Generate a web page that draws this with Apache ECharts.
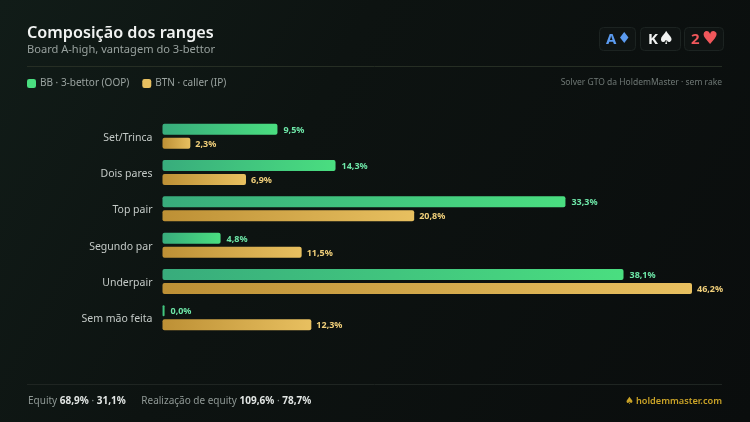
<!DOCTYPE html>
<html><head><meta charset="utf-8">
<style>html,body{margin:0;padding:0;background:#0b0f0e}#c{width:750px;height:422px}</style>
<script src="https://cdn.jsdelivr.net/npm/echarts@6/dist/echarts.min.js"></script>
</head><body><div id="c"></div>
<script>
const categories = ['Set/Trinca','Dois pares','Top pair','Segundo par','Underpair','Sem mão feita'];
const bbValues = [9.5,14.3,33.3,4.8,38.1,0.0];
const btnValues = [2.3,6.9,20.8,11.5,46.2,12.3];
const seriesNames = ['BB · 3-bettor (OOP)','BTN · caller (IP)'];
const axisMax = 43.76;
const FONT = '"Noto Sans", sans-serif';
const chart = echarts.init(document.getElementById('c'), null, {renderer:'canvas'});
const grad = (a,b)=>new echarts.graphic.LinearGradient(0,0,1,0,[{offset:0,color:a},{offset:1,color:b}]);
const fmt = p => p.value.toFixed(1).replace('.',',')+'%';
function txt(x,y,text,size,fill,weight,align,font){
  return {type:'text',x,y,silent:true,style:{text,fill,font:`${weight||400} ${size}px ${font||FONT}`,textAlign:align||'left',textVerticalAlign:'middle'}};
}
function rich(x,y,parts){
  const rt={g:{fill:'#8f9895',font:`400 10px ${FONT}`},w:{fill:'#e2e6e4',font:`700 10px ${FONT}`}};
  return {type:'text',x,y,silent:true,style:{text:parts,rich:rt,textVerticalAlign:'middle'}};
}
function chip(x,w,label,lx,suit,color,sx,ss){
  return [
    {type:'rect',shape:{x:x+.5,y:27.5,width:w,height:23,r:4},silent:true,style:{fill:'#0f1413',stroke:'#1c2321',lineWidth:1}},
    txt(lx,40,label,15,color,700),
    {type:'text',x:sx,y:39.5,silent:true,style:{text:suit,fill:color,font:`400 ${ss}px "DejaVu Sans"`,textVerticalAlign:'middle'}}
  ];
}
chart.setOption({
  animation:false,
  backgroundColor:new echarts.graphic.LinearGradient(0,0,1,1,[{offset:0,color:'#111c18'},{offset:0.38,color:'#0d1311'},{offset:1,color:'#0a0d0d'}]),
  legend:{left:27,top:78.5,padding:0,itemWidth:9,itemHeight:9,itemGap:13,icon:'roundRect',
    textStyle:{color:'#9aa3a0',fontSize:10,fontFamily:FONT,padding:[0,0,0,-1]},
    data:[{name:seriesNames[0],itemStyle:{color:'#4ade80'}},{name:seriesNames[1],itemStyle:{color:'#e8c060'}}]},
  grid:{left:162.5,top:118,width:529.5,height:218},
  xAxis:{type:'value',min:0,max:axisMax,show:false},
  yAxis:{type:'category',data:categories,inverse:true,axisLine:{show:false},axisTick:{show:false},
    axisLabel:{margin:10,formatter:v=>'{a|'+v+'}',
      rich:{a:{color:'#c4cac7',fontSize:10.5,fontFamily:FONT,padding:[3,0,0,0]}}}},
  series:[
    {name:seriesNames[0],type:'bar',data:bbValues,barWidth:11,barGap:'27%',barMinHeight:2,
     itemStyle:{color:grad('#38ac7c','#4ade80'),borderRadius:2},
     label:{show:true,position:'right',distance:6,offset:[0,1],formatter:fmt,color:'#6ee7a8',fontSize:9,fontWeight:700,fontFamily:FONT}},
    {name:seriesNames[1],type:'bar',data:btnValues,barWidth:11,
     itemStyle:{color:grad('#bd9035','#e8c060'),borderRadius:2},
     label:{show:true,position:'right',distance:5,offset:[0,1],formatter:fmt,color:'#f0cf7a',fontSize:9,fontWeight:700,fontFamily:FONT}}
  ],
  graphic:[
    txt(27,33,'Composição dos ranges',16.2,'#f1f3f2',600),
    txt(27,50,'Board A-high, vantagem do 3-bettor',11.1,'#98a19e',400),
    {type:'line',silent:true,shape:{x1:27,y1:66.5,x2:722,y2:66.5},style:{stroke:'#262e24',lineWidth:1}},
    ...chip(599,36,'A',606,'♦','#5b9bf0',617.5,15),
    ...chip(640,40,'K',648,'♠','#f1f3f2',658,18),
    ...chip(684,39,'2',691,'♥','#f0575b',702,18),
    txt(722,83,'Solver GTO da HoldemMaster · sem rake',8.5,'#6f7875',400,'right'),
    {type:'line',silent:true,shape:{x1:27,y1:384.5,x2:722,y2:384.5},style:{stroke:'#1f2522',lineWidth:1}},
    rich(28,401,'{g|Equity }{w|68,9%}{g| · }{w|31,1%}{g|      Realização de equity }{w|109,6%}{g| · }{w|78,7%}'),
    {type:'text',x:625,y:401,silent:true,style:{text:'♠',fill:'#c9a227',font:`400 10px "DejaVu Sans"`,textVerticalAlign:'middle'}},
    txt(722,401,'holdemmaster.com',9.2,'#c9a227',600,'right')
  ]
});
</script></body></html>
